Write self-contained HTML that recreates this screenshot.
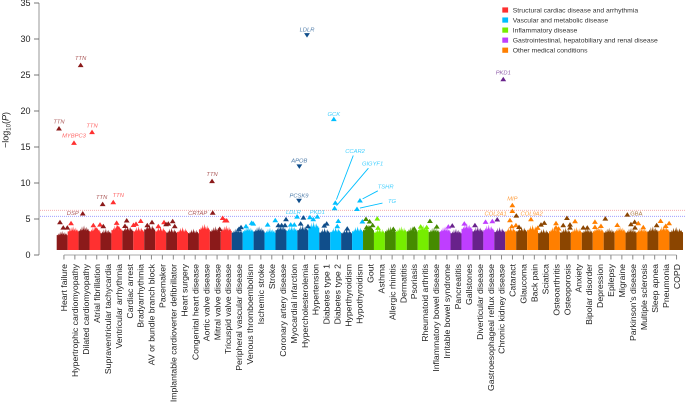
<!DOCTYPE html>
<html lang="en">
<head>
<meta charset="utf-8">
<title>Manhattan plot across 57 diseases</title>
<style>
html,body{margin:0;padding:0;background:#fff;}
body{width:685px;height:403px;overflow:hidden;}
svg{display:block;font-family:"Liberation Sans",Arial,sans-serif;}
</style>
</head>
<body>
<svg id="chart" width="685" height="403" viewBox="0 0 685 403" xmlns="http://www.w3.org/2000/svg">
  <g id="bands"></g>
  <line x1="40" x2="685" y1="210.3" y2="210.3" stroke="#f4a0a0" stroke-width="0.8" stroke-dasharray="1 1"/>
  <line x1="40" x2="685" y1="216.3" y2="216.3" stroke="#8f8fff" stroke-width="0.8" stroke-dasharray="1 1"/>
  <g id="points"></g>
  <g id="annotations"></g>
  <g id="y-axis"></g>
  <g id="x-axis"></g>
  <text transform="translate(8.5,148) rotate(-90)" font-size="9" fill="#222">−log<tspan font-size="6" dy="2">10</tspan><tspan dy="-2">(</tspan><tspan font-style="italic">P</tspan>)</text>
  <g id="legend"></g>
</svg>
<script>
const categories = ["Heart failure","Hypertrophic cardiomyopathy","Dilated cardiomyopathy","Atrial fibrillation","Supraventricular tachycardia","Ventricular arrhythmia","Cardiac arrest","Bradyarrhythmia","AV or bundle branch block","Pacemaker","Implantable cardioverter defibrillator","Heart surgery","Congenital heart disease","Aortic valve disease","Mitral valve disease","Tricuspid valve disease","Peripheral vascular disease","Venous thromboembolism","Ischemic stroke","Stroke","Coronary artery disease","Myocardial infarction","Hypercholesterolemia","Hypertension","Diabetes type 1","Diabetes type 2","Hyperthyroidism","Hypothyroidism","Gout","Asthma","Allergic rhinitis","Dermatitis","Psoriasis","Rheumatoid arthritis","Inflammatory bowel disease","Irritable bowel syndrome","Pancreatitis","Gallstones","Diverticular disease","Gastroesophageal reflux disease","Chronic kidney disease","Cataract","Glaucoma","Back pain","Sciatica","Osteoarthritis","Osteoporosis","Anxiety","Bipolar disorder","Depression","Epilepsy","Migraine","Parkinson's disease","Multiple sclerosis","Sleep apnea","Pneumonia","COPD"];
const categoryGroups = [0,0,0,0,0,0,0,0,0,0,0,0,0,0,0,0,1,1,1,1,1,1,1,1,1,1,1,1,2,2,2,2,2,2,2,3,3,3,3,3,3,4,4,4,4,4,4,4,4,4,4,4,4,4,4,4,4];
const bandTops = [3.1,3.7,3.8,3.7,3.4,3.9,3.8,3.7,4.0,3.7,3.5,3.6,3.4,4.0,3.7,3.8,3.5,3.7,3.7,3.5,3.9,3.8,3.9,4.3,3.5,3.6,3.4,3.7,3.9,3.5,3.7,3.7,3.7,3.9,3.6,3.7,3.4,4.1,3.7,3.9,3.6,3.7,3.7,3.9,3.4,3.7,3.5,3.6,3.5,3.7,3.5,3.7,3.5,3.6,3.7,3.8,3.6];
const bandFloor = 0.7;
const bandProfile = [0.85,0.88,0.84,0.96,0.86,1.06,0.88,0.95,1.1,0.87,1.0,0.85,1.04,0.89,0.95,0.85,0.86];
const yTicks = [0,5,10,15,20,25,30,35];
const legendLabels = ["Structural cardiac disease and arrhythmia","Vascular and metabolic disease","Inflammatory disease","Gastrointestinal, hepatobiliary and renal disease","Other medical conditions"];
const darkColors = ["#8B1A1A","#104E8B","#458B00","#68228B","#8B4500"];
const lightColors = ["#FF3030","#00BFFF","#76EE00","#BF3EFF","#FF7F00"];
const smallPointPositions = [0.3,0.6,0.97,1.31,3.35,3.6,3.96,4.26,5.48,5.58,6.24,6.4,7.02,7.25,7.68,8.28,8.71,9.29,9.81,10.0,10.2,10.6,10.79,14.9,15.17,15.38,15.54,16.66,16.85,17.3,17.82,17.97,19.28,19.98,20.26,20.56,20.87,20.96,21.39,21.72,22.3,22.55,22.97,23.15,23.45,24.46,24.68,25.65,25.74,26.56,27.94,28.27,28.33,28.6,28.63,28.88,29.3,29.37,30.77,32.68,33.27,33.82,34.12,34.74,35.8,36.16,37.26,38.23,39.2,39.82,40.27,41.6,41.65,41.98,42.01,42.26,43.97,44.27,44.57,45.64,45.64,45.88,46.3,46.64,46.92,46.92,47.38,48.13,48.5,49.2,49.2,49.75,50.15,51.24,52.49,52.83,52.86,53.16,53.62,54.84,55.2,55.67,55.98];
const smallPointValues = [4.58,3.84,3.84,4.44,4.17,3.56,4.26,4.03,4.49,3.84,4.07,4.82,4.21,4.35,4.76,4.17,4.58,4.03,4.58,4.3,4.4,4.72,4.03,3.65,5.18,4.82,4.82,3.65,3.89,4.03,4.49,4.4,4.26,4.86,4.17,4.17,4.17,5.0,4.26,4.26,4.4,5.23,4.03,5.28,5.0,4.12,4.4,4.03,4.76,3.7,4.68,5.04,3.89,4.68,3.8,4.17,5.09,3.8,3.65,3.7,3.98,3.89,4.76,3.98,3.98,4.12,4.4,4.17,4.63,4.72,4.96,4.03,6.15,4.17,5.51,3.93,3.8,4.26,4.49,4.44,3.84,3.7,4.17,5.18,4.26,3.84,4.72,3.84,3.84,4.63,3.93,4.07,5.09,4.21,4.3,4.63,3.84,4.44,3.89,4.17,4.76,4.07,4.44];
const geneNames = ["TTN","TTN","TTN","MYBPC3","TTN","TTN","DSP","CRTAP","TTN","LDLR","APOB","PCSK9","GCK","CCAR2","GIGYF1","TSHR","TG","LDLR","PKD1","PKD1","MIP","COL2A1","COL9A2","GBA"];
const genePositions = [2.19,0.21,3.23,1.58,4.2,5.17,2.38,14.26,14.2,22.88,22.18,22.15,25.33,25.47,25.4,27.72,27.45,21.97,23.82,40.82,41.65,41.43,43.35,52.16];
const geneValues = [26.4,17.6,17.1,15.6,7.1,7.36,5.8,5.9,10.3,30.5,12.27,7.5,18.9,7.3,6.53,7.6,6.43,5.37,5.37,24.44,6.94,4.86,5.0,5.65];
const geneDown = [0,0,0,0,0,0,0,0,0,1,1,1,0,0,0,0,0,0,0,0,0,0,0,0];

const svgNS = "http://www.w3.org/2000/svg";
const xPos = p => 56.7 + 10.94 * p;
const yPos = v => 255 - 7.2 * v;
const colorFor = i => (i % 2 === 0 ? darkColors : lightColors)[categoryGroups[i]];
const make = (tag, attrs, parent) => {
  const el = document.createElementNS(svgNS, tag);
  for (const k in attrs) el.setAttribute(k, attrs[k]);
  parent.appendChild(el);
  return el;
};
const triangle = (p, v, down, size) => {
  const cx = xPos(p), cy = yPos(v), h = size * 0.9, w = size * 0.58;
  return down
    ? `M${cx - w} ${cy - h / 2}L${cx + w} ${cy - h / 2}L${cx} ${cy + h / 2}Z`
    : `M${cx - w} ${cy + h / 2}L${cx + w} ${cy + h / 2}L${cx} ${cy - h / 2}Z`;
};

const bandsG = document.getElementById("bands");
categories.forEach((name, i) => {
  const widthUnits = i === categories.length - 1 ? 1.25 : 1;
  const n = bandProfile.length - 1;
  let d = `M${xPos(i)} ${yPos(bandFloor)}`;
  bandProfile.forEach((f, k) => {
    d += `L${xPos(i + widthUnits * k / n)} ${yPos(bandFloor + (bandTops[i] - bandFloor) * f)}`;
  });
  d += `L${xPos(i + widthUnits)} ${yPos(bandFloor)}Z`;
  const band = make("path", {d: d, fill: colorFor(i)}, bandsG);
  
  
});

const pointsG = document.getElementById("points");
smallPointPositions.forEach((p, k) => {
  const pt = make("path", {d: triangle(p, smallPointValues[k], false, 5), fill: colorFor(Math.floor(p))}, pointsG);
  
  
});

const labelOffsetX = [0,0,0,0,-1,5,-10,-15,0,0,0,0,0,19.7,38,25.7,35,-3.7,0,0,0,-14.3,0.7,9];
const labelOffsetY = [-7,-7,-6.5,-7,-7,-7,0,0.5,-7,-6,-6,-5.5,-5,-51.6,-44.7,-13.6,-7.7,-4.3,-4.3,-6.5,-6.7,-6.7,-5.7,-1];
const leaderGenes = ["CCAR2","GIGYF1","TSHR","TG"];
const annG = document.getElementById("annotations");
geneNames.forEach((g, k) => {
  const p = genePositions[k], v = geneValues[k], cat = Math.floor(p);
  const col = colorFor(cat);
  const tri = make("path", {d: triangle(p, v, geneDown[k] === 1, 5), fill: col}, annG);
  
  
  const lx = xPos(p) + labelOffsetX[k], ly = yPos(v) + labelOffsetY[k];
  if (leaderGenes.includes(g)) {
    const dx = lx - xPos(p), dy = ly - yPos(v), len = Math.hypot(dx, dy);
    const ux = dx / len, uy = dy / len;
    const ln = make("line", {
      x1: xPos(p) + ux * 3, y1: yPos(v) + uy * 3,
      x2: lx - ux * Math.max(5, Math.abs(ux) * 10), y2: ly - uy * Math.max(5, Math.abs(ux) * 10),
      stroke: col, "stroke-width": 0.9
    }, annG);
    
    
  }
  const t = make("text", {
    x: lx, y: ly + 2, "font-size": 5.8, "font-style": g === "GBA" ? "normal" : "italic",
    "text-anchor": "middle", fill: col, "fill-opacity": 0.75
  }, annG);
  t.textContent = g;
  
  
});

const yG = document.getElementById("y-axis");
const spine = make("line", {x1: 39, x2: 39, y1: yPos(35), y2: yPos(0), stroke: "#b5b5b5", "stroke-width": 1.4}, yG);


yTicks.forEach(v => {
  const tick = make("line", {x1: 34, x2: 39, y1: yPos(v), y2: yPos(v), stroke: "#555", "stroke-width": 0.8}, yG);
  
  
  const lab = make("text", {x: 30.5, y: yPos(v) + 3.2, "font-size": 9, "text-anchor": "end", fill: "#222"}, yG);
  lab.textContent = v;
  
  
});

const xG = document.getElementById("x-axis");
const tickX = i => xPos(i + 0.66);
const baseLine = make("line", {x1: tickX(0), x2: tickX(categories.length - 1), y1: 255, y2: 255, stroke: "#aaa", "stroke-width": 1}, xG);


categories.forEach((name, i) => {
  const tick = make("line", {x1: tickX(i), x2: tickX(i), y1: 255, y2: 259.5, stroke: "#888", "stroke-width": 1}, xG);
  
  
  const lab = make("text", {
    transform: `translate(${tickX(i) + 3.2},264) rotate(-90)`,
    "font-size": 8.7, "text-anchor": "end", fill: "#222"
  }, xG);
  lab.textContent = name;
  
  
});

const legendG = document.getElementById("legend");
legendLabels.forEach((name, i) => {
  const cy = 10 + i * 10.05;
  const sw = make("rect", {x: 502.3, y: cy - 2.6, width: 5.8, height: 5.2, fill: lightColors[i]}, legendG);
  
  
  const lab = make("text", {x: 512.7, y: cy + 2.3, "font-size": 6.8, fill: "#333"}, legendG);
  lab.textContent = name;
  
  
});
</script>
</body>
</html>
